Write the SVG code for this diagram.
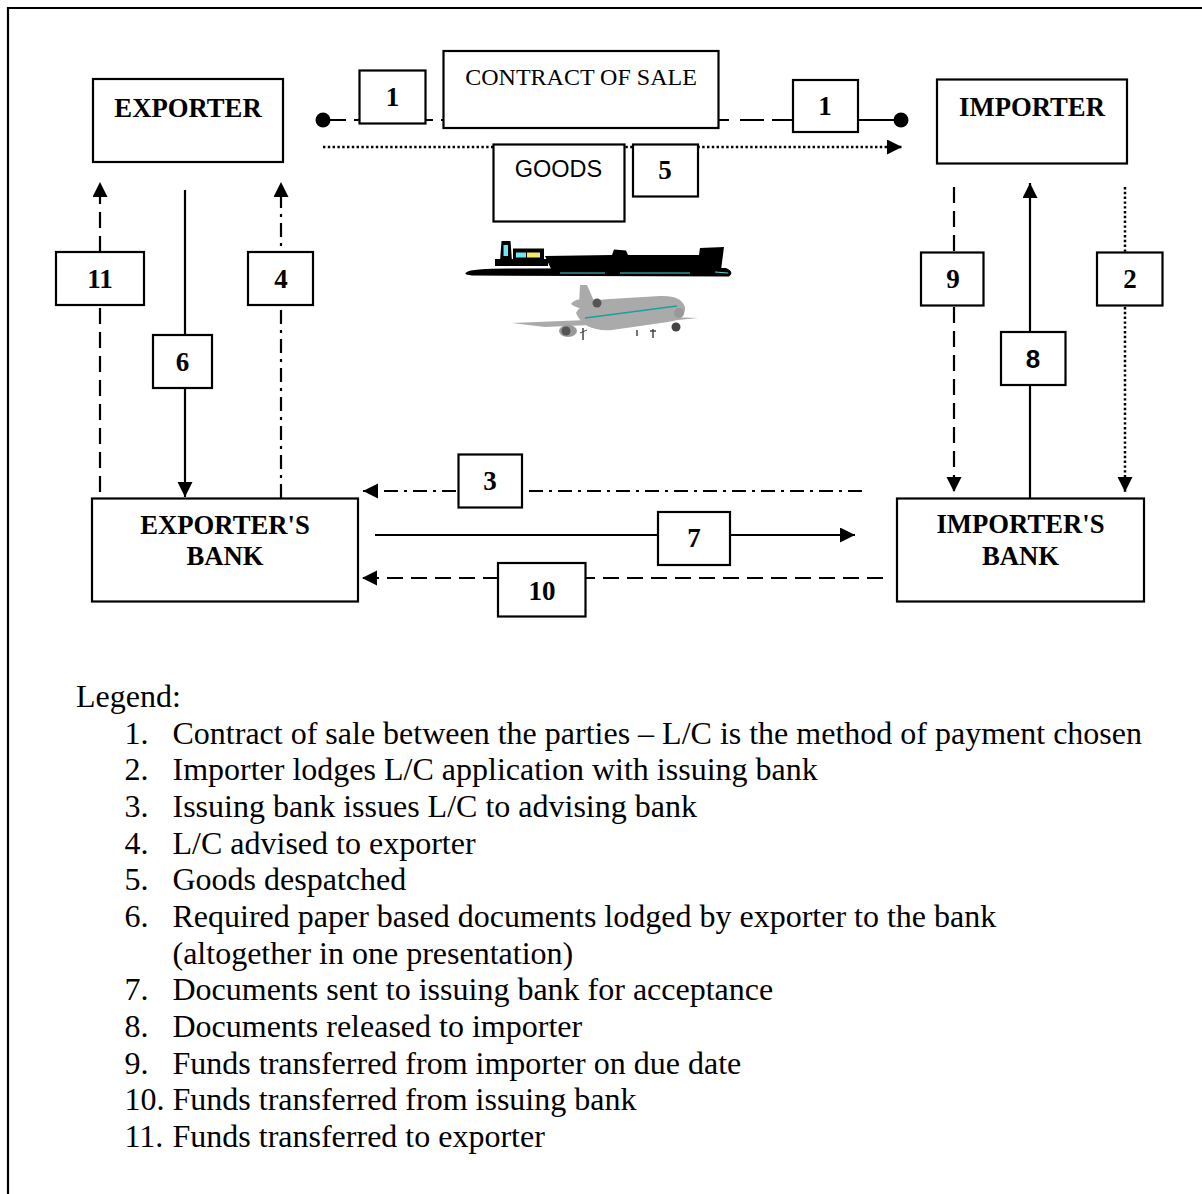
<svg xmlns="http://www.w3.org/2000/svg" width="1202" height="1194" viewBox="0 0 1202 1194">
<defs>
<marker id="arr" markerUnits="userSpaceOnUse" markerWidth="16" markerHeight="16" refX="15" refY="7.5" orient="auto">
<path d="M0,0 L15,7.5 L0,15 Z" fill="#000"/>
</marker>
</defs>
<style>
.box{fill:#fff;stroke:#000;stroke-width:2.2}
.lbl{font-family:"Liberation Serif","Times New Roman",serif;font-weight:bold;font-size:26.7px;text-anchor:middle;fill:#000}
.num{font-family:"Liberation Serif","Times New Roman",serif;font-weight:bold;font-size:27px;text-anchor:middle;fill:#000}
.ln{fill:none;stroke:#000;stroke-width:2.2}
.dash{stroke-dasharray:16 8}
.dd{stroke-dasharray:14 6 3 6}
.dot{stroke-dasharray:2.4 2.4;stroke-width:2.5}
.leg{font-family:"Liberation Serif","Times New Roman",serif;font-size:32px;fill:#000}
</style>
<rect x="0" y="0" width="1202" height="1194" fill="#fff"/>
<g id="border">
<path d="M8,1194 L8,8 L1202,8" fill="none" stroke="#000" stroke-width="2.2"/>
</g>
<g id="connectors">
<path class="ln" d="M323,120H346 M354,120H433 M441,120H729 M740,120H764 M772,120H795 M856,120H901"/>
<circle cx="323" cy="120" r="7.5" fill="#000"/>
<circle cx="901" cy="120" r="7.5" fill="#000"/>
<line class="ln dot" x1="323" y1="147" x2="902" y2="147" marker-end="url(#arr)"/>
<line class="ln dash" x1="100" y1="492" x2="100" y2="182" marker-end="url(#arr)"/>
<line class="ln" x1="185" y1="190" x2="185" y2="497" marker-end="url(#arr)"/>
<line class="ln dd" x1="281" y1="498" x2="281" y2="182" marker-end="url(#arr)"/>
<line class="ln dash" x1="954" y1="187" x2="954" y2="492" marker-end="url(#arr)"/>
<line class="ln" x1="1030" y1="498" x2="1030" y2="183" marker-end="url(#arr)"/>
<line class="ln dot" x1="1125" y1="187" x2="1125" y2="492" marker-end="url(#arr)"/>
<line class="ln dd" x1="862" y1="491" x2="363" y2="491" marker-end="url(#arr)"/>
<line class="ln" x1="375" y1="535" x2="855" y2="535" marker-end="url(#arr)"/>
<line class="ln dash" x1="883" y1="578" x2="362" y2="578" marker-end="url(#arr)"/>
</g>
<g id="exporter">
<rect class="box" x="93" y="79" width="190" height="83"/>
<text class="lbl" x="188" y="117">EXPORTER</text>
</g>
<g id="importer">
<rect class="box" x="937" y="79.5" width="190" height="84"/>
<text class="lbl" x="1032" y="116">IMPORTER</text>
</g>
<g id="contract">
<rect class="box" x="443.5" y="51" width="275" height="77"/>
<text x="581" y="85" font-family="Liberation Serif, Times New Roman, serif" font-size="24" text-anchor="middle">CONTRACT OF SALE</text>
</g>
<g id="goods">
<rect class="box" x="493.5" y="144.5" width="131" height="77"/>
<text x="558.5" y="177" font-family="Liberation Sans, Arial, sans-serif" font-size="23.5" text-anchor="middle">GOODS</text>
</g>
<g id="n1a"><rect class="box" x="359.5" y="70.5" width="66" height="53"/><text class="num" x="392.5" y="106">1</text></g>
<g id="n1b"><rect class="box" x="793" y="80" width="65" height="52"/><text class="num" x="825" y="115">1</text></g>
<g id="n5"><rect class="box" x="633" y="144.5" width="65" height="52"/><text class="num" x="665" y="179">5</text></g>
<g id="n11"><rect class="box" x="56" y="252" width="88" height="53"/><text class="num" x="100" y="288">11</text></g>
<g id="n4"><rect class="box" x="248" y="252" width="65" height="53"/><text class="num" x="281" y="288">4</text></g>
<g id="n9"><rect class="box" x="921" y="252.5" width="62.5" height="53"/><text class="num" x="953" y="288">9</text></g>
<g id="n2"><rect class="box" x="1097" y="252.5" width="65.5" height="53"/><text class="num" x="1130" y="288">2</text></g>
<g id="n6"><rect class="box" x="153" y="335" width="59" height="53"/><text class="num" x="182.5" y="371">6</text></g>
<g id="n8"><rect class="box" x="1001" y="332" width="64.5" height="53"/><text x="1033" y="368" font-family="Liberation Sans, Arial, sans-serif" font-weight="bold" font-size="26" text-anchor="middle">8</text></g>
<g id="n3"><rect class="box" x="458.5" y="454.5" width="63.5" height="53"/><text class="num" x="490" y="490">3</text></g>
<g id="n7"><rect class="box" x="658" y="512" width="72" height="53"/><text class="num" x="694" y="547">7</text></g>
<g id="n10"><rect class="box" x="498" y="563" width="87.5" height="53.5"/><text class="num" x="542" y="600">10</text></g>
<g id="exporters-bank">
<rect class="box" x="92" y="498.5" width="266" height="103"/>
<text class="lbl" x="225" y="534">EXPORTER'S</text>
<text class="lbl" x="225" y="565">BANK</text>
</g>
<g id="importers-bank">
<rect class="box" x="897" y="498.5" width="247" height="103"/>
<text class="lbl" x="1020.5" y="533">IMPORTER'S</text>
<text class="lbl" x="1020.5" y="565">BANK</text>
</g>
<g id="ship">
<path d="M467,272 Q471,268 520,268.5 L726,268 Q735,272 729,276.5 L472,275.5 Q462,274.5 467,272 Z" fill="#000"/>
<path d="M545,256 L612,255 L614,249.5 L626,250.5 L628,255 L699,255 L700,248 L724,247 L721,270 L552,271 Z" fill="#000"/>
<rect x="495" y="259" width="53" height="7" fill="#000"/>
<rect x="513" y="248.5" width="31" height="12" fill="#000"/>
<path d="M500,261 L501.5,241 L510.5,241 L512,261 Z" fill="#000"/>
<rect x="503.5" y="245" width="4.5" height="11" fill="#6de6ee"/>
<rect x="516" y="252.5" width="10" height="5" fill="#6de6ee"/>
<rect x="527" y="252.5" width="13" height="5" fill="#f2ea6a"/>
<line x1="560" y1="273" x2="605" y2="273" stroke="#4fd8d8" stroke-width="1.2"/>
<line x1="620" y1="273" x2="690" y2="273" stroke="#4fd8d8" stroke-width="1.2"/>
<line x1="715" y1="272" x2="728" y2="273" stroke="#4fd8d8" stroke-width="1.2"/>
</g>
<g id="plane">
<path d="M512,323 L612,319 L612,324 L545,327 Z" fill="#aaa"/>
<path d="M668,317 L698,318 L668,321 Z" fill="#aaa"/>
<path d="M580,285 L587,285 L594,301 L579,305 Z" fill="#aaa"/>
<path d="M571,304 Q574,298 592,299 L594,309 Q577,310 571,304 Z" fill="#aaa"/>
<path d="M576,313 Q582,300 610,299 L660,296 Q681,295 685,307 Q686,320 668,322 L612,330 Q584,332 576,313 Z" fill="#aaa"/>
<circle cx="597" cy="303" r="4.5" fill="#555"/>
<ellipse cx="568" cy="331" rx="9" ry="6" fill="#999"/>
<circle cx="566" cy="331" r="4.5" fill="#555"/>
<circle cx="676" cy="327" r="4.5" fill="#444"/>
<circle cx="679" cy="313" r="5" fill="#999"/>
<line x1="585" y1="318" x2="677" y2="306" stroke="#1aa0a0" stroke-width="1.6"/>
<line x1="583" y1="328" x2="583" y2="340" stroke="#444" stroke-width="1.5"/>
<line x1="580" y1="333" x2="587" y2="330" stroke="#444" stroke-width="1"/>
<line x1="637" y1="330" x2="637" y2="336" stroke="#444" stroke-width="1.5"/>
<line x1="653" y1="329" x2="653" y2="338" stroke="#444" stroke-width="1.5"/>
<line x1="650" y1="331" x2="656" y2="331" stroke="#444" stroke-width="1.5"/>
</g>
<g id="legend" class="leg">
<text x="76" y="707">Legend:</text>
<text x="124.5" y="743.5">1.</text><text x="172.5" y="743.5">Contract of sale between the parties – L/C is the method of payment chosen</text>
<text x="124.5" y="780">2.</text><text x="172.5" y="780">Importer lodges L/C application with issuing bank</text>
<text x="124.5" y="817">3.</text><text x="172.5" y="817">Issuing bank issues L/C to advising bank</text>
<text x="124.5" y="853.5">4.</text><text x="172.5" y="853.5">L/C advised to exporter</text>
<text x="124.5" y="890">5.</text><text x="172.5" y="890">Goods despatched</text>
<text x="124.5" y="927">6.</text><text x="172.5" y="927">Required paper based documents lodged by exporter to the bank</text>
<text x="172.5" y="963.5">(altogether in one presentation)</text>
<text x="124.5" y="1000">7.</text><text x="172.5" y="1000">Documents sent to issuing bank for acceptance</text>
<text x="124.5" y="1037">8.</text><text x="172.5" y="1037">Documents released to importer</text>
<text x="124.5" y="1073.5">9.</text><text x="172.5" y="1073.5">Funds transferred from importer on due date</text>
<text x="124.5" y="1110">10.</text><text x="172.5" y="1110">Funds transferred from issuing bank</text>
<text x="124.5" y="1147">11.</text><text x="172.5" y="1147">Funds transferred to exporter</text>
</g>
</svg>
